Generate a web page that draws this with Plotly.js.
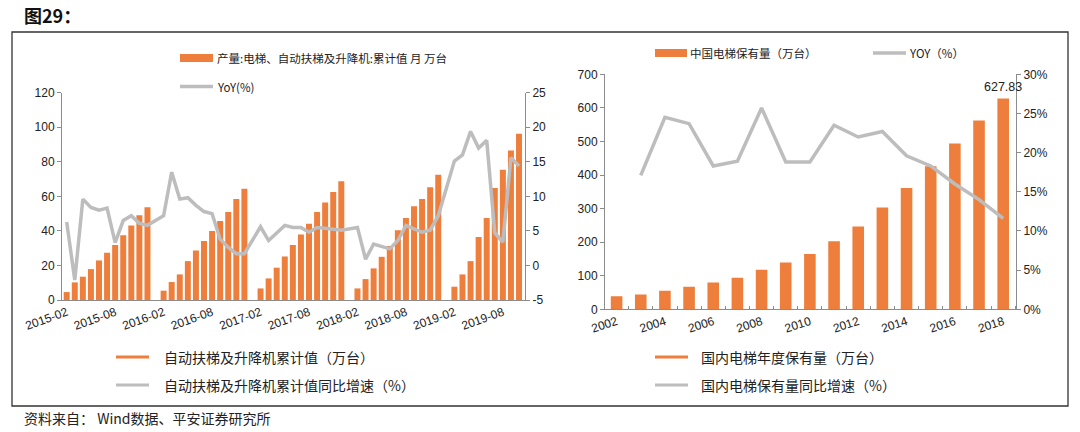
<!DOCTYPE html>
<html>
<head>
<meta charset="utf-8">
<script src="https://cdn.plot.ly/plotly-3.0.1.min.js"></script>
<style>html,body{margin:0;padding:0;background:#fff;}#chart{width:1080px;height:432px;}</style>
</head>
<body>
<div id="chart"></div>
<script>
// ---------- Left chart data (monthly cumulative, 万台; Jan has no value) ----------
const monthYears = [2015, 2016, 2017, 2018, 2019];
const prod2015 = [4.6, 10.2, 13.5, 17.9, 22.9, 27.3, 31.9, 37.5, 43.1, 49.0, 53.7];          // Feb-Dec
const prod2016 = [null, 5.4, 10.4, 14.8, 22.5, 28.7, 34.2, 40.0, 45.8, 51.0, 58.5, 64.4];
const prod2017 = [null, 6.7, 12.5, 18.7, 25.2, 31.9, 37.9, 44.2, 51.0, 56.4, 62.5, 68.8];
const prod2018 = [null, 6.7, 12.1, 18.3, 25.0, 31.3, 40.4, 47.5, 54.2, 58.5, 65.2, 72.5];
const prod2019 = [null, 7.7, 14.8, 22.5, 36.5, 47.5, 64.8, 75.4, 86.5, 96.2];              // Jan-Oct
const yoy2015  = [6.3, -2.1, 9.6, 8.4, 8.0, 8.3, 3.3, 6.5, 7.2, 6.1, 5.8];
const yoy2016  = [null, 7.2, 13.5, 9.6, 9.8, 8.7, 7.8, 7.5, 3.8, 2.6, 1.7, 1.7];
const yoy2017  = [null, 5.6, 3.6, 4.7, 5.8, 5.5, 5.5, 4.8, 5.5, 5.4, 5.2, 5.1];
const yoy2018  = [null, 5.5, 0.9, 3.1, 2.7, 2.4, 3.6, 5.8, 5.3, 4.8, 5.1, 7.2];
const yoy2019  = [null, 15.1, 16.0, 19.4, 17.0, 18.1, 4.7, 3.4, 15.6, 14.4];
const leftTickLabels = ['2015-02','2015-08','2016-02','2016-08','2017-02','2017-08','2018-02','2018-08','2019-02','2019-08'];
const yoyAxisTicks = [-5, 0, 5, 10, 15, 20, 25];

// ---------- Right chart data (annual stock, 万台 ; YoY %) ----------
const years = [2002,2003,2004,2005,2006,2007,2008,2009,2010,2011,2012,2013,2014,2015,2016,2017,2018];
const stock = [38.5,44.4,55.3,67.1,80.0,93.8,117.5,139.2,164.8,202.5,246.8,303.1,361.3,426.4,493.5,562.5,627.83];
const stockYoY = [null,17.1,24.5,23.7,18.3,18.9,25.7,18.8,18.8,23.5,22.0,22.7,19.6,18.3,16.0,14.0,11.6];
const rightTickLabels = [2002,2004,2006,2008,2010,2012,2014,2016,2018];

// ---------- Texts ----------
const figTitle = '图29：';
const sourceText = '资料来自： Wind数据、平安证券研究所';
const leftLegTop = ['产量:电梯、自动扶梯及升降机:累计值 月 万台', 'YoY(%)'];
const leftLegBottom = ['自动扶梯及升降机累计值（万台）', '自动扶梯及升降机累计值同比增速（%）'];
const rightLegTop = ['中国电梯保有量（万台）', 'YOY（%）'];
const rightLegBottom = ['国内电梯年度保有量（万台）', '国内电梯保有量同比增速（%）'];

// build monthly categories
const prodByYear = [prod2015, prod2016, prod2017, prod2018, prod2019];
const yoyByYear = [yoy2015, yoy2016, yoy2017, yoy2018, yoy2019];
const months = [], prod = [], yoy = [];
monthYears.forEach((yr, i) => {
  const startM = (i === 0) ? 2 : 1;
  prodByYear[i].forEach((v, j) => {
    const m = startM + j;
    months.push(yr + '-' + (m < 10 ? '0' + m : '' + m));
    prod.push(v);
    yoy.push(yoyByYear[i][j]);
  });
});

const ORANGE = '#EE7E3B';
const GRAY = '#BDBDBD';
const AXIS = '#8C8C8C';
const W = 1080, H = 432;
const px = x => x / W, py = y => 1 - y / H;
const tickFont = {family: 'Liberation Sans, Arial, sans-serif', size: 12, color: '#222'};
const cjk = 'Noto Sans CJK SC, sans-serif';

const traces = [
  {type: 'bar', x: months, y: prod, xaxis: 'x', yaxis: 'y', marker: {color: ORANGE}, width: 0.74, hoverinfo: 'skip'},
  {type: 'scatter', mode: 'lines', x: months, y: yoy, xaxis: 'x', yaxis: 'y2', connectgaps: true,
   line: {color: GRAY, width: 3.5}, hoverinfo: 'skip'},
  {type: 'bar', x: years, y: stock, xaxis: 'x2', yaxis: 'y3', marker: {color: ORANGE}, width: 0.48, hoverinfo: 'skip'},
  {type: 'scatter', mode: 'lines', x: years, y: stockYoY, xaxis: 'x2', yaxis: 'y4',
   line: {color: GRAY, width: 3.5}, hoverinfo: 'skip'}
];

const yAxisBase = {showgrid: false, zeroline: false, showline: true, linecolor: AXIS, linewidth: 1,
  ticks: 'outside', ticklen: 4, tickcolor: AXIS, tickfont: tickFont, fixedrange: true};

const shapes = [
  {type: 'rect', xref: 'paper', yref: 'paper', x0: px(12), x1: px(1068), y0: py(406), y1: py(32),
   line: {color: '#333', width: 1.3}},
  // left top legend
  {type: 'rect', xref: 'paper', yref: 'paper', x0: px(180), x1: px(213), y0: py(62), y1: py(54), fillcolor: ORANGE, line: {width: 0}},
  {type: 'line', xref: 'paper', yref: 'paper', x0: px(180), x1: px(213), y0: py(86.5), y1: py(86.5), line: {color: GRAY, width: 3.5}},
  // right top legend
  {type: 'rect', xref: 'paper', yref: 'paper', x0: px(655), x1: px(687), y0: py(57), y1: py(49), fillcolor: ORANGE, line: {width: 0}},
  {type: 'line', xref: 'paper', yref: 'paper', x0: px(873), x1: px(906), y0: py(53), y1: py(53), line: {color: GRAY, width: 3.5}},
  // bottom legends
  {type: 'line', xref: 'paper', yref: 'paper', x0: px(116), x1: px(149), y0: py(357), y1: py(357), line: {color: ORANGE, width: 3}},
  {type: 'line', xref: 'paper', yref: 'paper', x0: px(116), x1: px(149), y0: py(385), y1: py(385), line: {color: GRAY, width: 3}},
  {type: 'line', xref: 'paper', yref: 'paper', x0: px(655), x1: px(688), y0: py(357), y1: py(357), line: {color: ORANGE, width: 3}},
  {type: 'line', xref: 'paper', yref: 'paper', x0: px(655), x1: px(688), y0: py(385), y1: py(385), line: {color: GRAY, width: 3}}
];

function txt(x, y, text, size, extra) {
  return Object.assign({xref: 'paper', yref: 'paper', x: px(x), y: py(y), text: text, showarrow: false,
    xanchor: 'left', yanchor: 'middle', font: {family: cjk, size: size, color: '#222'}}, extra || {});
}

const annotations = [
  txt(22, 15, '<b>' + figTitle + '</b>', 17, {font: {family: cjk, size: 18, color: '#111'}}),
  txt(22, 418, sourceText, 14),
  txt(215, 58, leftLegTop[0], 11.5),
  txt(215, 86.5, leftLegTop[1], 11.5),
  txt(688, 53, rightLegTop[0], 11.5),
  txt(907, 53, rightLegTop[1], 11.5),
  txt(162, 357, leftLegBottom[0], 14),
  txt(162, 385, leftLegBottom[1], 14),
  txt(699, 357, rightLegBottom[0], 14),
  txt(699, 385, rightLegBottom[1], 14),
  {xref: 'x2', yref: 'y3', x: years[years.length - 1], y: stock[stock.length - 1],
   text: stock[stock.length - 1].toFixed(2), showarrow: false, yanchor: 'bottom', xanchor: 'center', yshift: 3,
   font: {family: 'Liberation Sans, Arial, sans-serif', size: 12.5, color: '#222'}}
];

const layout = {
  width: W, height: H,
  margin: {l: 0, r: 0, t: 0, b: 0, pad: 0},
  paper_bgcolor: '#fff', plot_bgcolor: 'rgba(0,0,0,0)',
  showlegend: false,
  barmode: 'overlay',
  xaxis: {domain: [px(62), px(525)], anchor: 'y', type: 'category', categoryorder: 'array', categoryarray: months,
    range: [-0.58, months.length - 1 + 0.74], tickmode: 'array', tickvals: leftTickLabels, ticktext: leftTickLabels,
    tickangle: -20, ticks: '', showline: true, linecolor: AXIS, showgrid: false, zeroline: false,
    tickfont: tickFont, fixedrange: true},
  yaxis: Object.assign({}, yAxisBase, {domain: [py(300), py(92.7)], anchor: 'x', range: [0, 120], dtick: 20, tick0: 0}),
  yaxis2: Object.assign({}, yAxisBase, {overlaying: 'y', side: 'right', anchor: 'x', range: [-5, 25],
    tickmode: 'array', tickvals: yoyAxisTicks, ticktext: yoyAxisTicks.map(String)}),
  xaxis2: {domain: [px(605), px(1016)], anchor: 'y3', type: 'linear', range: [years[0] - 0.48, years[years.length - 1] + 0.53],
    tickmode: 'array', tickvals: rightTickLabels, ticktext: rightTickLabels.map(String), tickangle: -18, ticks: '',
    minor: {tick0: years[0] - 0.5, dtick: 1, ticks: 'inside', ticklen: 3, tickcolor: AXIS, showgrid: false},
    showline: true, linecolor: AXIS, showgrid: false, zeroline: false, tickfont: tickFont, fixedrange: true},
  yaxis3: Object.assign({}, yAxisBase, {domain: [py(309.3), py(74.3)], anchor: 'x2', range: [0, 700], dtick: 100, tick0: 0}),
  yaxis4: Object.assign({}, yAxisBase, {overlaying: 'y3', side: 'right', anchor: 'x2', range: [0, 30], dtick: 5, tick0: 0, ticksuffix: '%'}),
  shapes: shapes,
  annotations: annotations
};

Plotly.newPlot('chart', traces, layout, {staticPlot: true, displayModeBar: false});
</script>
</body>
</html>
